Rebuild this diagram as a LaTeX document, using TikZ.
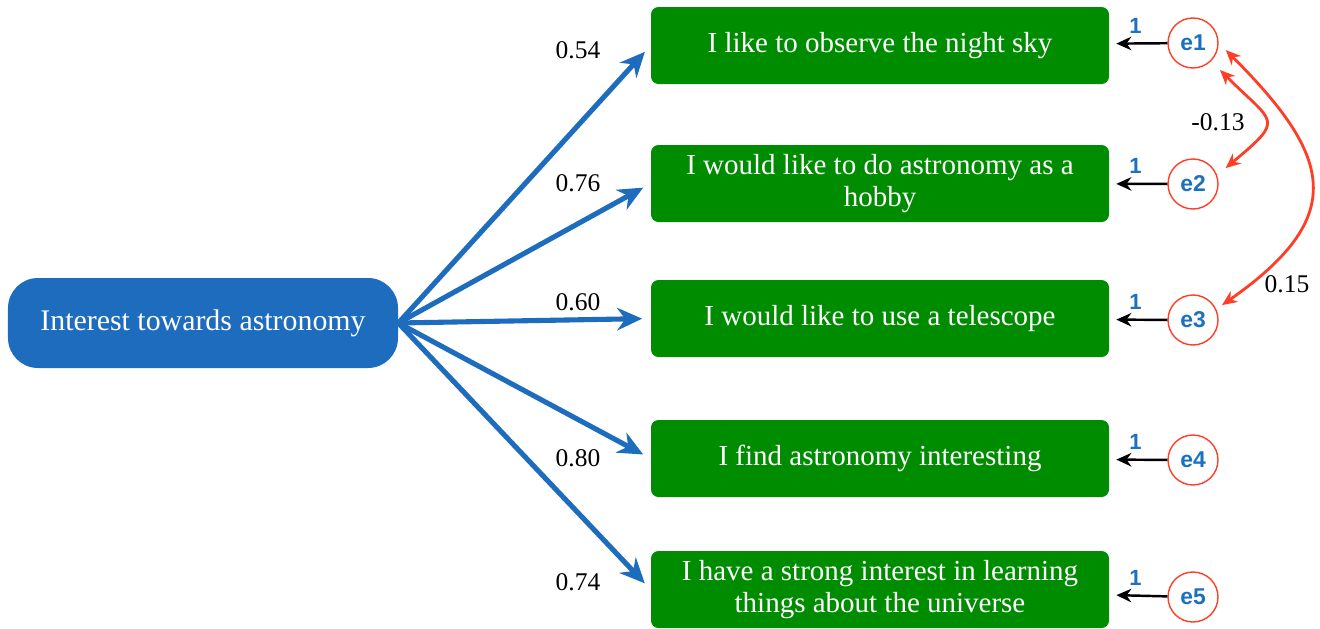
\documentclass[tikz,border=0pt]{standalone}
\usepackage{fontspec}
\setmainfont{Liberation Serif}
\newfontfamily\errfont{Liberation Sans}
\usetikzlibrary{arrows.meta}
\definecolor{itemgreen}{RGB}{0,140,0}
\definecolor{factorblue}{RGB}{30,108,190}
\definecolor{errred}{RGB}{255,62,40}
\definecolor{errblue}{RGB}{28,112,192}

\begin{document}
\begin{tikzpicture}
        \tikzstyle{factornode}=[
            rectangle,
            rounded corners=0.6cm,
            fill=factorblue,
            text=white,
            minimum width=7.8cm,
            minimum height=1.8cm,
            font=\fontsize{17}{18}\selectfont
        ]
        \tikzstyle{itemnode}=[
            rectangle,
            rounded corners=0.15cm,
            fill=itemgreen,
            text=white,
            align=center,
            minimum width=9.16cm,
            minimum height=1.54cm,
            font=\fontsize{16.5}{18.2}\selectfont
        ]
        \tikzstyle{errnode}=[
            circle,
            draw=errred,
            line width=0.8pt,
            text=errblue,
            minimum size=1cm,
            inner sep=0pt,
            font=\errfont\bfseries\fontsize{13}{15}\selectfont
        ]
        \tikzstyle{coef}=[font=\fontsize{14.5}{16}\selectfont, inner sep=1pt]
        \tikzstyle{one}=[text=errblue, font=\errfont\bfseries\fontsize{12.5}{14}\selectfont, inner sep=1pt]
        \tikzstyle{loading}=[factorblue, line width=2.9pt, shorten >=0.17cm, -{Stealth[length=0.5cm, width=0.45cm]}]
        \tikzstyle{fixed}=[black, line width=1.4pt, shorten >=0.14cm, -{Stealth[length=0.3cm, width=0.27cm]}]
        \tikzstyle{corr}=[errred, line width=1.6pt, {Stealth[length=0.3cm, width=0.26cm]}-{Stealth[length=0.3cm, width=0.26cm]}]

        \useasboundingbox (0,0) rectangle (26.4,-12.58);

        \node[factornode] (F) at (4.06,-6.46) {Interest towards astronomy};

        \node[itemnode] (B1) at (17.6,-0.91) {I like to observe the night sky};
        \node[itemnode] (B2) at (17.6,-3.67) {I would like to do astronomy as a\\hobby};
        \node[itemnode] (B3) at (17.6,-6.37) {I would like to use a telescope};
        \node[itemnode] (B4) at (17.6,-9.17) {I find astronomy interesting};
        \node[itemnode] (B5) at (17.6,-11.79) {I have a strong interest in learning\\things about the universe};

        \node[errnode] (E1) at (23.86,-0.86) {e1};
        \node[errnode] (E2) at (23.86,-3.68) {e2};
        \node[errnode] (E3) at (23.86,-6.40) {e3};
        \node[errnode] (E4) at (23.86,-9.20) {e4};
        \node[errnode] (E5) at (23.86,-11.94) {e5};

        \draw[loading] (F.east) -- (B1.west);
        \draw[loading] (F.east) -- (B2.west);
        \draw[loading] (F.east) -- (B3.west);
        \draw[loading] (F.east) -- (B4.west);
        \draw[loading] (F.east) -- (B5.west);

        \node[coef] (L1) at (11.56,-1.0) {0.54};
        \node[coef] (L2) at (11.56,-3.66) {0.76};
        \node[coef] (L3) at (11.56,-6.04) {0.60};
        \node[coef] (L4) at (11.56,-9.16) {0.80};
        \node[coef] (L5) at (11.56,-11.64) {0.74};

        \draw[fixed] (E1) -- node[one, above=4pt, pos=0.55] (W1) {1} (B1);
        \draw[fixed] (E2) -- node[one, above=4pt, pos=0.55] (W2) {1} (B2);
        \draw[fixed] (E3) -- node[one, above=4pt, pos=0.55] (W3) {1} (B3);
        \draw[fixed] (E4) -- node[one, above=4pt, pos=0.55] (W4) {1} (B4);
        \draw[fixed] (E5) -- node[one, above=4pt, pos=0.55] (W5) {1} (B5);

        \draw[corr, shorten <=0.25cm, shorten >=0.22cm] (E1.-45) to[out=-45, in=40, looseness=2] (E2.20);
        \draw[corr, shorten <=0.2cm, shorten >=0.14cm] (E1.east) to[out=-45, in=35, looseness=1.55] (E3.25);

        \node[coef] (R12) at (24.36,-2.44) {-0.13};
        \node[coef] (R13) at (25.74,-5.68) {0.15};

    \end{tikzpicture}
\end{document}
